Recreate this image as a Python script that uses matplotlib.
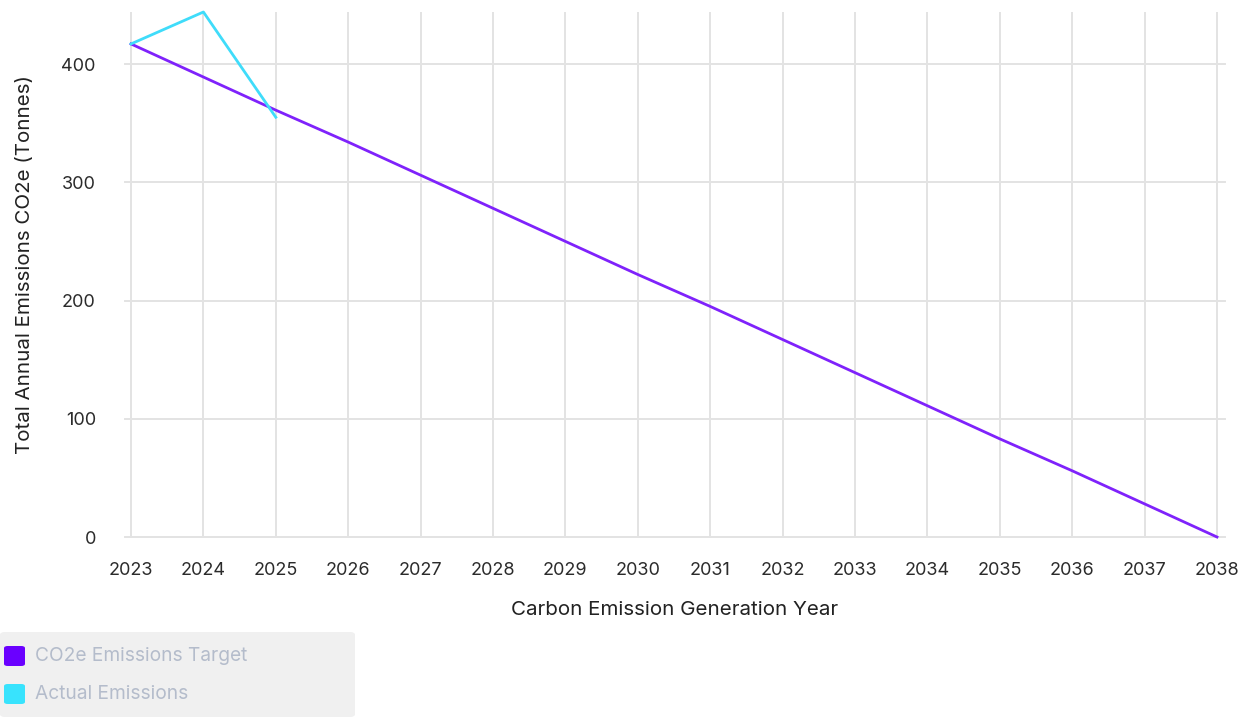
import matplotlib
matplotlib.use("Agg")
import matplotlib.pyplot as plt
from matplotlib.patches import FancyBboxPatch

years = list(range(2023, 2039))
target = [417, 389, 361, 334, 306, 278, 250, 222, 195, 167, 139, 111, 83, 56, 28, 0]
actual_years = [2023, 2024, 2025]
actual = [417, 444, 355]
yticks = [0, 100, 200, 300, 400]

plt.rcParams['font.family'] = ['Inter', 'DejaVu Sans']

W, H = 1252, 717
fig = plt.figure(figsize=(W / 100, H / 100), dpi=100)

x0, x1 = 125, 1225
ytop, ybot = 12, 537
ax = fig.add_axes([x0 / W, (H - ybot) / H, (x1 - x0) / W, (ybot - ytop) / H])

ppy = (1217 - 131) / 15.0
ax.set_xlim(2023 - (131 - x0) / ppy, 2038 + (x1 - 1217) / ppy)
ax.set_ylim(0, 444)

grid_c = '#e3e3e3'
for y in yticks:
    ax.axhline(y, color=grid_c, lw=1.4, zorder=0, clip_on=False)
for x in years:
    ax.axvline(x, color=grid_c, lw=1.4, zorder=0)

ax.plot(years, target, color='#7f22fb', lw=2.0, zorder=3, clip_on=False)
ax.plot(actual_years, actual, color='#3fdcfa', lw=2.0, zorder=4, clip_on=False)

for s in ax.spines.values():
    s.set_visible(False)
ax.set_xticks(years)
ax.set_xticklabels([str(y) for y in years])
ax.set_yticks(yticks)
ax.set_yticklabels([str(y) for y in yticks])
fs = 13
lfs = 14.8
ax.tick_params(axis='both', length=0, labelsize=fs, colors='#2b2b2b')
ax.tick_params(axis='x', pad=18)
ax.tick_params(axis='y', pad=21)

ax.set_xlabel('Carbon Emission Generation Year', fontsize=lfs, color='#222222', labelpad=16)
ax.set_ylabel('Total Annual Emissions CO2e (Tonnes)', fontsize=lfs, color='#222222')
ax.yaxis.set_label_coords(-91 / (x1 - x0), (ybot - 265) / (ybot - ytop))


def fx(px):
    return px / W


def fy(py):
    return (H - py) / H


fig.patches.append(FancyBboxPatch((fx(0), fy(717)), fx(355), (717 - 632) / H,
                                  boxstyle='round,pad=0,rounding_size=0.004',
                                  transform=fig.transFigure, facecolor='#f0f0f0',
                                  edgecolor='none', zorder=0))
items = [('CO2e Emissions Target', '#6a00ff', 656), ('Actual Emissions', '#38e3fd', 694)]
for label, col, cy in items:
    fig.patches.append(FancyBboxPatch((fx(4), fy(cy + 10)), fx(21), 20 / H,
                                      boxstyle='round,pad=0,rounding_size=0.003',
                                      transform=fig.transFigure, facecolor=col,
                                      edgecolor='none', zorder=1))
    fig.text(fx(35), fy(cy), label, fontsize=13.8, color='#b4bccb', va='center', ha='left')

fig.savefig('out.png', dpi=100, facecolor='white')
